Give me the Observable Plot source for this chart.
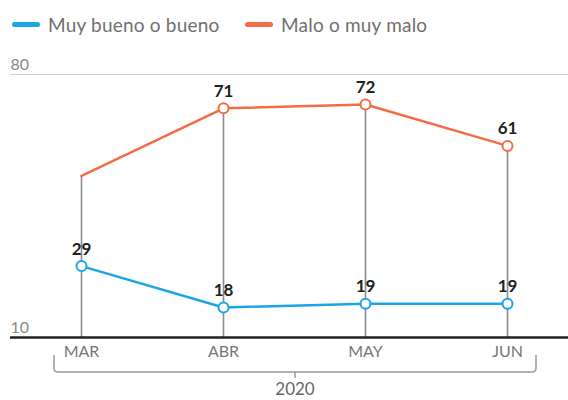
<!DOCTYPE html>
<html><head><meta charset="utf-8">
<script src="https://cdn.jsdelivr.net/npm/d3@7"></script>
<script src="https://cdn.jsdelivr.net/npm/@observablehq/plot@0.6"></script>
<style>
body{margin:0;background:#fff;font-family:Lato,"Open Sans",sans-serif;}
#legend{height:48px;position:relative;}
.item{position:absolute;top:13px;display:flex;align-items:center;font-size:19px;color:#707070;letter-spacing:0.2px;}
.sw{width:28px;height:5px;border-radius:3px;margin-right:8px;}
</style></head>
<body>
<div id="legend"></div>
<div id="chart"></div>
<script>
const months = ["MAR","ABR","MAY","JUN"];
const bueno = [29,18,19,19];
const malo = [53,71,72,61];
const maloLabeled = [false,true,true,true];
const yTicks = [10,80];
const seriesNames = ["Muy bueno o bueno","Malo o muy malo"];
const colors = ["#1aa6e6","#f26d45"];
const yearLabel = "2020";

const legend = document.getElementById("legend");
const lefts = [12,245];
seriesNames.forEach((n,i)=>{
  const it = document.createElement("div");
  it.className="item"; it.style.left=lefts[i]+"px";
  it.innerHTML = `<span class="sw" style="background:${colors[i]}"></span><span>${n}</span>`;
  legend.appendChild(it);
});

const data = months.map((m,i)=>({month:m,bueno:bueno[i],malo:malo[i],lab:maloLabeled[i]}));
const maloPts = data.filter(d=>d.lab);

function bracket(index, scales, values, dims) {
  const x0 = scales.x(months[0]) - 27, x1 = scales.x(months[months.length-1]) + 29;
  const base = scales.y(yTicks[0]);
  const top = base + 18, bottom = base + 35, r = 4, mid = (x0+x1)/2;
  const g = d3.create("svg:g");
  g.append("path")
   .attr("d",`M${x0},${top}V${bottom-r}Q${x0},${bottom} ${x0+r},${bottom}H${x1-r}Q${x1},${bottom} ${x1},${bottom-r}V${top}M${mid},${bottom}V${bottom+6}`)
   .attr("fill","none").attr("stroke","#999").attr("stroke-width",1.5);
  g.append("text").attr("x",mid).attr("y",bottom+19).attr("text-anchor","middle")
   .attr("dominant-baseline","middle").attr("fill","#666").attr("font-size",17).text(yearLabel);
  return g.node();
}

const chart = Plot.plot({
  width:568, height:352,
  marginLeft:10, marginRight:0, marginTop:26, marginBottom:63,
  style:{fontFamily:"Lato, 'Open Sans', sans-serif", background:"#fff"},
  x:{type:"point", domain:months, range:[80,508], padding:0, label:null},
  y:{domain:[10,80], axis:null},
  marks:[
    Plot.ruleY([yTicks[1]],{stroke:"#cfcfcf",strokeWidth:1.2}),
    Plot.text(yTicks,{y:d=>d,text:d=>String(d),frameAnchor:"left",textAnchor:"start",dy:-10,fontSize:16,fill:"#888"}),
    Plot.ruleX(data,{x:"month",y1:yTicks[0],y2:"malo",stroke:"#8c8c8c",strokeWidth:1.6}),
    Plot.line(data,{x:"month",y:"bueno",stroke:colors[0],strokeWidth:2.5}),
    Plot.line(data,{x:"month",y:"malo",stroke:colors[1],strokeWidth:2.5}),
    Plot.ruleY([yTicks[0]],{stroke:"#222",strokeWidth:2.5}),
    Plot.dot(data,{x:"month",y:"bueno",r:5,fill:"#fff",stroke:colors[0],strokeWidth:2}),
    Plot.dot(maloPts,{x:"month",y:"malo",r:5,fill:"#fff",stroke:colors[1],strokeWidth:2}),
    Plot.text(data,{x:"month",y:"bueno",text:d=>String(d.bueno),dy:-17,fontSize:17,fontWeight:"bold",fill:"#222"}),
    Plot.text(maloPts,{x:"month",y:"malo",text:d=>String(d.malo),dy:-17,fontSize:17,fontWeight:"bold",fill:"#222"}),
    Plot.axisX({tickSize:0,tickPadding:8,fontSize:16,fill:"#777",label:null}),
    bracket
  ]
});
document.getElementById("chart").appendChild(chart);
</script>
</body></html>
